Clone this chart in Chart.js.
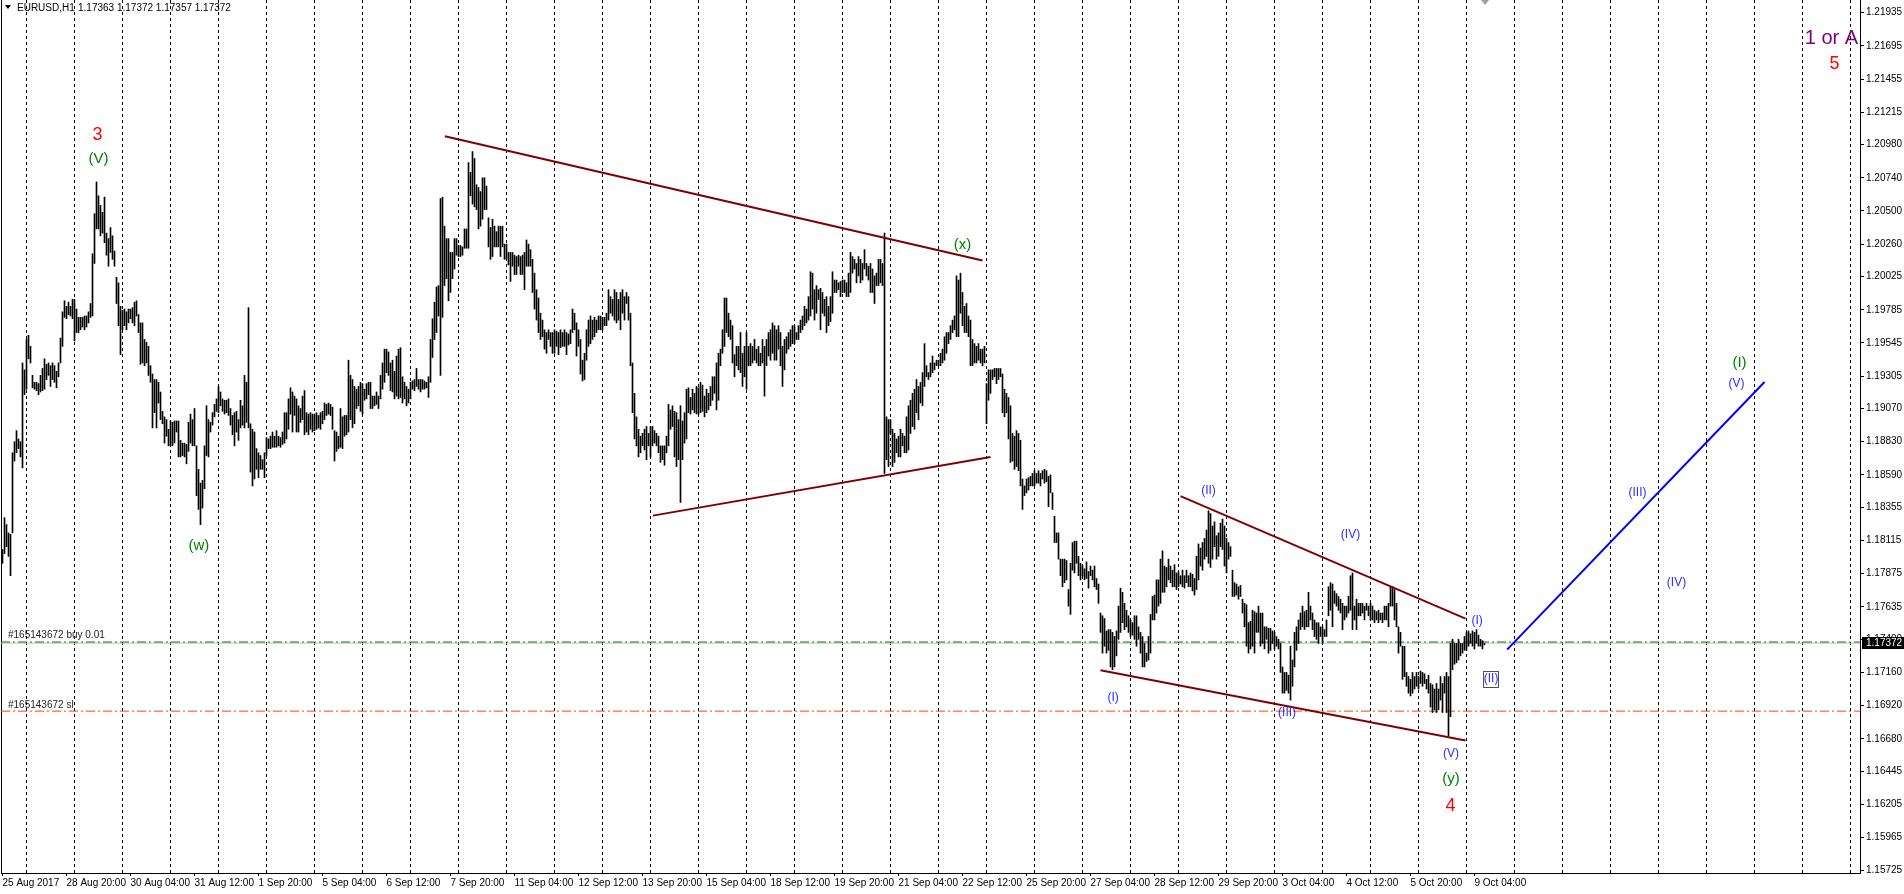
<!DOCTYPE html>
<html>
<head>
<meta charset="utf-8">
<title>EURUSD,H1</title>
<script src="https://cdn.jsdelivr.net/npm/chart.js@4.4.1/dist/chart.umd.min.js"></script>
<style>
    html, body { margin: 0; padding: 0; background: #fff; overflow: hidden; }
    canvas { display: block; }
</style>
</head>
<body>
<canvas id="priceChart" width="1904" height="894"></canvas>
<script>
// H1 bars, values are pips above BASE_PRICE (price = BASE_PRICE + v / 10000)
const BASE_PRICE = 1.15;

const barHighs = [
    // Fri 25 Aug (from 12:00)
    305,328,323,317,316,375,383,391,385,383,440,435,
    // Mon 28 Aug
    457,460,452,431,426,426,425,431,436,443,439,440,438,440,438,434,440,458,477,485,481,484,481,486,
    // Tue 29 Aug
    486,479,473,473,473,474,474,477,483,519,548,571,561,554,549,560,534,530,538,532,521,502,498,481,
    // Wed 30 Aug
    478,479,477,479,479,480,484,485,475,469,469,457,455,452,438,432,428,428,426,419,405,401,399,392,
    // Thu 31 Aug
    398,397,398,398,398,384,382,382,381,397,403,399,407,380,363,353,355,380,409,399,397,404,410,414,
    // Fri 1 Sep
    423,419,414,413,413,414,407,402,404,405,399,413,409,431,426,480,396,392,390,378,375,373,370,375,
    // Mon 4 Sep
    386,385,387,390,387,391,387,386,390,404,404,414,422,419,416,414,409,407,416,420,404,403,404,403,
    // Tue 5 Sep
    403,404,402,404,405,411,410,411,410,408,391,390,387,407,401,402,402,442,431,428,423,421,423,426,
    // Wed 6 Sep
    425,421,425,426,426,416,416,419,416,431,440,450,450,448,440,442,434,445,450,451,430,426,423,421,
    // Thu 7 Sep
    426,427,428,436,428,428,428,427,426,430,457,472,484,495,496,559,560,539,530,530,520,520,530,530,
    // Fri 8 Sep
    525,525,524,537,537,585,578,593,588,569,567,564,574,574,568,545,538,544,539,535,539,539,539,526,
    // Mon 11 Sep
    526,520,520,520,518,517,518,517,518,520,529,526,522,515,505,493,487,476,471,464,462,464,462,462,
    // Tue 12 Sep
    464,463,462,464,462,464,462,461,464,479,476,469,464,457,442,447,464,471,474,471,473,471,474,474,
    // Wed 13 Sep
    473,473,476,493,488,486,493,491,486,491,493,488,491,488,476,440,418,401,392,387,389,392,394,389,
    // Thu 14 Sep
    394,394,391,389,387,380,380,380,387,410,406,409,405,404,399,409,398,404,421,422,415,421,418,423,
    // Fri 15 Sep
    422,426,424,416,421,418,423,430,430,440,447,450,464,487,487,476,471,467,446,452,452,462,447,452,
    // Mon 18 Sep
    462,452,454,452,457,450,452,447,457,452,457,462,464,469,467,464,467,462,452,457,459,462,464,467,
    // Tue 19 Sep
    467,462,467,471,474,481,479,488,506,505,493,496,493,494,491,486,488,481,488,506,500,500,498,499,
    // Wed 20 Sep
    500,500,498,505,520,517,515,512,517,515,512,522,512,510,512,508,503,505,515,515,512,534,401,399,
    // Thu 21 Sep
    399,392,389,385,387,392,389,387,401,409,413,418,421,428,423,426,433,454,438,433,440,445,440,442,
    // Fri 22 Sep
    442,447,450,459,462,462,467,471,474,503,500,505,491,481,483,474,471,457,454,452,454,450,450,452,
    // Mon 25 Sep
    425,435,435,435,436,436,436,436,432,421,418,415,409,389,387,391,389,384,356,351,356,357,358,360,
    // Tue 26 Sep
    362,360,362,360,362,363,362,358,359,346,329,317,317,298,298,298,297,276,295,310,311,311,300,295,
    // Wed 27 Sep
    293,291,296,289,293,290,293,284,280,259,257,255,246,247,247,245,242,246,264,277,274,266,261,257,
    // Thu 28 Sep
    254,252,257,257,249,245,242,237,230,242,258,271,272,283,283,298,304,293,292,298,293,290,294,288,
    // Fri 29 Sep
    289,286,290,286,290,286,288,287,284,300,309,306,310,313,319,333,331,322,325,315,317,324,327,322,
    // Mon 2 Oct
    313,310,307,290,281,280,278,279,269,266,265,252,253,261,260,259,264,259,259,249,249,248,248,246,
    // Tue 3 Oct
    245,242,240,237,220,216,216,214,235,225,245,249,254,259,264,260,261,274,264,259,254,252,252,249,
    // Wed 4 Oct
    249,247,254,278,281,280,275,273,271,269,266,264,264,271,286,288,264,269,266,266,266,264,266,264,
    // Thu 5 Oct
    266,264,261,260,261,259,259,264,264,266,278,278,276,266,249,245,235,235,216,213,211,216,213,216,
    // Fri 6 Oct
    213,217,216,215,211,214,208,207,204,208,204,213,208,213,216,213,237,240,237,237,240,237,237,242,
    // Mon 9 Oct
    245,246,244,246,245,247,243,240,239,237
];

const barLows = [
    295,302,307,300,286,317,369,375,378,372,364,417,
    421,443,440,422,421,420,417,419,420,421,428,431,423,428,426,422,430,440,452,473,472,475,474,472,
    456,462,462,464,466,464,466,469,473,474,512,537,537,532,534,527,518,510,520,515,510,483,467,446,
    464,467,464,469,472,469,467,474,462,439,440,438,440,431,426,393,404,393,411,399,396,382,387,380,
    380,380,382,390,372,372,373,372,367,376,382,380,380,344,334,323,335,349,373,372,390,395,401,405,
    404,409,405,403,404,402,395,388,380,390,384,393,395,393,397,393,361,351,356,363,357,363,363,357,
    373,378,378,379,379,379,380,379,381,382,385,392,403,390,402,390,390,397,399,388,390,388,392,390,
    391,392,393,392,396,399,402,403,402,392,369,376,378,379,378,387,388,390,399,393,396,407,409,405,
    403,413,414,417,407,407,409,410,407,414,421,426,433,431,420,419,414,416,414,415,411,414,409,411,
    414,421,420,423,421,419,421,421,422,415,426,444,457,462,474,431,473,496,501,485,491,501,508,518,
    517,517,518,523,523,523,561,555,553,551,537,539,544,551,551,524,515,517,524,524,524,517,524,515,
    515,511,499,510,504,504,510,504,504,493,510,510,510,491,479,471,462,457,459,450,447,457,452,447,
    447,452,446,451,452,452,446,453,454,462,464,445,452,432,427,428,442,452,454,457,459,462,464,464,
    464,467,467,471,476,474,471,469,471,464,476,471,483,471,438,404,385,380,372,375,380,377,370,380,
    372,380,382,380,375,368,370,366,375,380,392,394,372,365,370,339,370,382,385,404,403,406,404,403,
    403,404,405,401,404,406,409,413,418,406,413,438,447,452,462,459,457,440,430,438,435,433,423,430,
    421,438,438,440,442,440,438,438,440,416,438,445,442,447,442,442,450,438,423,435,447,450,452,454,
    454,457,457,462,464,467,469,471,474,479,471,476,486,464,476,474,462,467,470,476,491,491,493,488,
    491,491,488,488,491,505,508,498,503,498,500,508,503,500,491,491,483,496,496,498,496,360,370,365,
    389,365,368,375,372,372,380,375,375,377,389,394,392,404,399,411,409,423,430,428,430,433,435,438,
    438,438,440,442,447,454,457,462,464,459,459,476,467,462,462,459,438,438,440,440,442,440,438,440,
    396,413,418,428,430,425,428,430,404,401,404,385,368,369,363,365,362,351,334,344,346,348,351,351,
    351,353,353,351,356,353,354,336,346,334,310,310,298,286,278,281,283,264,258,290,288,295,286,283,
    286,283,284,277,286,283,278,276,266,245,230,235,230,232,220,218,220,228,240,245,252,247,249,245,
    242,243,240,235,240,230,220,220,224,225,230,254,254,259,264,266,274,274,278,283,281,278,278,276,
    278,280,278,277,281,278,278,275,272,276,283,293,290,298,300,295,292,298,307,298,300,307,305,293,
    288,298,300,271,271,272,269,271,259,249,235,230,233,235,230,245,245,235,237,233,240,230,232,237,
    233,235,233,216,201,201,203,201,196,206,220,232,237,247,249,247,249,249,254,247,242,240,237,242,
    237,242,242,257,261,249,266,264,261,259,247,254,256,259,261,247,254,247,257,257,259,254,261,257,
    254,254,252,254,252,254,252,254,254,249,264,264,254,249,230,235,211,213,206,201,199,201,204,206,
    204,208,206,208,204,201,191,187,189,187,189,196,187,201,187,170,184,218,222,223,225,228,230,232,
    232,235,237,235,233,237,235,235,233,236
];

const timeLabels = [
    '25 Aug 2017', '28 Aug 20:00', '30 Aug 04:00', '31 Aug 12:00', '1 Sep 20:00', '5 Sep 04:00',
    '6 Sep 12:00', '7 Sep 20:00', '11 Sep 04:00', '12 Sep 12:00', '13 Sep 20:00', '15 Sep 04:00',
    '18 Sep 12:00', '19 Sep 20:00', '21 Sep 04:00', '22 Sep 12:00', '25 Sep 20:00', '27 Sep 04:00',
    '28 Sep 12:00', '29 Sep 20:00', '3 Oct 04:00', '4 Oct 12:00', '5 Oct 20:00', '9 Oct 04:00'
];
const BARS_PER_LABEL = 32;
const FIRST_DAY_BAR = 12;
const BARS_PER_DAY = 24;

const priceTicks = [
    1.21935, 1.21695, 1.21455, 1.21215, 1.20980, 1.20740, 1.20500, 1.20260, 1.20025,
    1.19785, 1.19545, 1.19305, 1.19070, 1.18830, 1.18590, 1.18355, 1.18115, 1.17875,
    1.17635, 1.17400, 1.17160, 1.16920, 1.16680, 1.16445, 1.16205, 1.15965, 1.15725
];

const lastBarOhlc = [1.17363, 1.17372, 1.17357, 1.17372];
const bidPrice = 1.17372;
const buyPrice = 1.17380;
const stopPrice = 1.16880;

// drawing objects: [bar index, price]
const upperTriangle = [[221.2, 1.21041], [490, 1.20141]];
const lowerTriangle = [[325.2, 1.18295], [494, 1.18719]];
const upperWedge = [[589, 1.18436], [731.5, 1.17550]];
const lowerWedge = [[549, 1.17176], [731.5, 1.16667]];
const projection = [[752.3, 1.17325], [881, 1.19262]];

const waveLabels = [
    { text: '3', bar: 47.5, price: 1.21053, kind: 'primary' },
    { text: '(V)', bar: 48, price: 1.20879, kind: 'intermediate' },
    { text: '(w)', bar: 98.2, price: 1.18073, kind: 'intermediate' },
    { text: '(x)', bar: 480, price: 1.20252, kind: 'intermediate' },
    { text: '(I)', bar: 555.3, price: 1.16978, kind: 'minor' },
    { text: '(II)', bar: 603, price: 1.18476, kind: 'minor' },
    { text: '(III)', bar: 642.3, price: 1.16867, kind: 'minor' },
    { text: '(IV)', bar: 674, price: 1.18158, kind: 'minor' },
    { text: '(V)', bar: 724.3, price: 1.16573, kind: 'minor' },
    { text: '(y)', bar: 724.3, price: 1.16389, kind: 'intermediate' },
    { text: '4', bar: 724, price: 1.16196, kind: 'primary' },
    { text: '(I)', bar: 737.3, price: 1.17533, kind: 'minor' },
    { text: '(II)', bar: 744.3, price: 1.17115, kind: 'minor', boxed: true },
    { text: '(III)', bar: 817.5, price: 1.18462, kind: 'minor' },
    { text: '(IV)', bar: 837, price: 1.17810, kind: 'minor' },
    { text: '(V)', bar: 867, price: 1.19251, kind: 'minor' },
    { text: '(I)', bar: 868.5, price: 1.19403, kind: 'intermediate' },
    { text: '1 or A', bar: 914.5, price: 1.21748, kind: 'cycle' },
    { text: '5', bar: 916, price: 1.21567, kind: 'primary' }
];

const FONT = "'Liberation Sans', Arial, sans-serif";
const LABEL_STYLES = {
    primary: { color: '#ff0000', size: 18 },
    intermediate: { color: '#008000', size: 15 },
    minor: { color: '#2b2bff', size: 12 },
    cycle: { color: '#800080', size: 20 }
};

// axis ranges chosen so one bar takes 2 px
const X_MIN = -0.75, X_MAX = 928.75;
const Y_MIN = 1.157084, Y_MAX = 1.220269;

const toPrice = (v) => BASE_PRICE + v / 10000;

const PriceChart = {
    chart: null,

    init() {
        const ctx = document.getElementById('priceChart').getContext('2d');
        this.chart = new Chart(ctx, {
            type: 'bar',
            data: { datasets: this.buildDatasets() },
            options: this.buildOptions(),
            plugins: [this.overlayPlugin()]
        });
    },

    lineSet(points, color, width, dash, order) {
        return {
            type: 'line',
            data: points.map(p => ({ x: p[0], y: p[1] })),
            borderColor: color,
            borderWidth: width,
            borderDash: dash || [],
            pointRadius: 0,
            fill: false,
            tension: 0,
            order: order
        };
    },

    buildDatasets() {
        const bars = {
            type: 'bar',
            data: barHighs.map((h, i) => ({ x: i, y: [toPrice(barLows[i]), toPrice(h)] })),
            backgroundColor: '#000',
            borderWidth: 0,
            barThickness: 1,
            grouped: false,
            order: 5
        };
        const fullWidth = (price) => [[X_MIN, price], [X_MAX, price]];
        return [
            this.lineSet(fullWidth(bidPrice), '#c0c0c0', 1, null, 9),
            this.lineSet(fullWidth(buyPrice), '#008000', 1, [9, 3, 2, 3], 8),
            this.lineSet(fullWidth(stopPrice), '#ff4500', 1, [9, 3, 2, 3], 8),
            bars,
            this.lineSet(upperTriangle, '#800000', 2, null, 1),
            this.lineSet(lowerTriangle, '#800000', 2, null, 1),
            this.lineSet(upperWedge, '#800000', 2, null, 1),
            this.lineSet(lowerWedge, '#800000', 2, null, 1),
            this.lineSet(projection, '#0000ff', 2, null, 1)
        ];
    },

    buildOptions() {
        const tickFont = { family: FONT, size: 10 };
        return {
            responsive: false,
            animation: false,
            devicePixelRatio: 1,
            events: [],
            layout: { padding: 0, autoPadding: false },
            plugins: { legend: { display: false }, tooltip: { enabled: false } },
            scales: {
                x: {
                    type: 'linear', position: 'bottom', min: X_MIN, max: X_MAX, offset: false,
                    afterBuildTicks: (s) => { s.ticks = timeLabels.map((_, k) => ({ value: k * BARS_PER_LABEL })); },
                    afterFit: (s) => { s.height = 21; s.paddingLeft = 0; s.paddingRight = 0; },
                    ticks: {
                        autoSkip: false, maxRotation: 0, minRotation: 0, align: 'start', padding: 1,
                        font: tickFont, color: '#000',
                        callback: (v, idx) => timeLabels[idx]
                    },
                    grid: { drawOnChartArea: false, drawTicks: true, tickLength: 3, color: '#000', offset: false },
                    border: { display: true, color: '#000' }
                },
                xDays: {
                    type: 'linear', position: 'bottom', min: X_MIN, max: X_MAX, offset: false,
                    afterBuildTicks: (s) => {
                        const ticks = [];
                        for (let b = FIRST_DAY_BAR; b <= X_MAX; b += BARS_PER_DAY) ticks.push({ value: b });
                        s.ticks = ticks;
                    },
                    afterFit: (s) => { s.height = 0; s.paddingLeft = 0; s.paddingRight = 0; },
                    ticks: { display: false },
                    grid: { drawTicks: false, color: '#000', lineWidth: 1, offset: false },
                    border: { display: false, dash: [3, 3] }
                },
                y: {
                    type: 'linear', position: 'right', min: Y_MIN, max: Y_MAX,
                    afterBuildTicks: (s) => { s.ticks = priceTicks.map(v => ({ value: v })); },
                    afterFit: (s) => { s.width = 44; s.paddingTop = 0; s.paddingBottom = 0; },
                    ticks: { font: tickFont, color: '#000', padding: 2, callback: (v) => v.toFixed(5) },
                    grid: { drawOnChartArea: false, drawTicks: true, tickLength: 4, color: '#000' },
                    border: { display: true, color: '#000' }
                },
                yLeft: {
                    type: 'linear', position: 'left', min: Y_MIN, max: Y_MAX,
                    afterFit: (s) => { s.width = 1; s.paddingTop = 0; s.paddingBottom = 0; },
                    ticks: { display: false },
                    grid: { display: false },
                    border: { display: true, color: '#000' }
                }
            }
        };
    },

    overlayPlugin() {
        return {
            id: 'overlay',
            afterDatasetsDraw(chart) {
                const { ctx } = chart;
                const x = chart.scales.x, y = chart.scales.y;
                ctx.save();

                ctx.font = `10px ${FONT}`;
                ctx.fillStyle = '#222';
                ctx.textAlign = 'left';
                ctx.textBaseline = 'alphabetic';
                ctx.fillText('#165143672 buy 0.01', 8, y.getPixelForValue(buyPrice) - 4);
                ctx.fillText('#165143672 sl', 8, y.getPixelForValue(stopPrice) - 3);

                ctx.textAlign = 'center';
                ctx.textBaseline = 'middle';
                waveLabels.forEach(label => {
                    const style = LABEL_STYLES[label.kind];
                    const px = x.getPixelForValue(label.bar);
                    const py = y.getPixelForValue(label.price);
                    ctx.font = `${style.size}px ${FONT}`;
                    ctx.fillStyle = style.color;
                    ctx.fillText(label.text, px, py);
                    if (label.boxed) {
                        ctx.strokeStyle = '#505050';
                        ctx.lineWidth = 1;
                        ctx.strokeRect(Math.round(px - 8) + 0.5, Math.round(py - 8) + 0.5, 15, 16);
                    }
                });
                ctx.restore();
            },
            afterDraw(chart) {
                const { ctx, chartArea } = chart;
                const x = chart.scales.x, y = chart.scales.y;
                ctx.save();

                // symbol header
                ctx.fillStyle = '#000';
                ctx.beginPath();
                ctx.moveTo(5, 5); ctx.lineTo(11, 5); ctx.lineTo(8, 9);
                ctx.closePath();
                ctx.fill();
                ctx.font = `10px ${FONT}`;
                ctx.textAlign = 'left';
                ctx.textBaseline = 'middle';
                ctx.fillText('EURUSD,H1', 17, 8);
                ctx.fillText(lastBarOhlc.map(v => v.toFixed(5)).join(' '), 78, 8);

                // chart shift marker
                const sx = Math.round(x.getPixelForValue(barHighs.length - 1));
                ctx.fillStyle = '#a0a0a0';
                ctx.beginPath();
                ctx.moveTo(sx - 4, 0); ctx.lineTo(sx + 4, 0); ctx.lineTo(sx, 5);
                ctx.closePath();
                ctx.fill();

                // bid price tag on the price scale
                const py = Math.round(y.getPixelForValue(bidPrice));
                ctx.fillStyle = '#000';
                ctx.fillRect(chartArea.right + 2, py - 6, 44, 12);
                ctx.fillStyle = '#fff';
                ctx.fillText(bidPrice.toFixed(5), chartArea.right + 6, py);
                ctx.restore();
            }
        };
    }
};

PriceChart.init();
</script>
</body>
</html>
